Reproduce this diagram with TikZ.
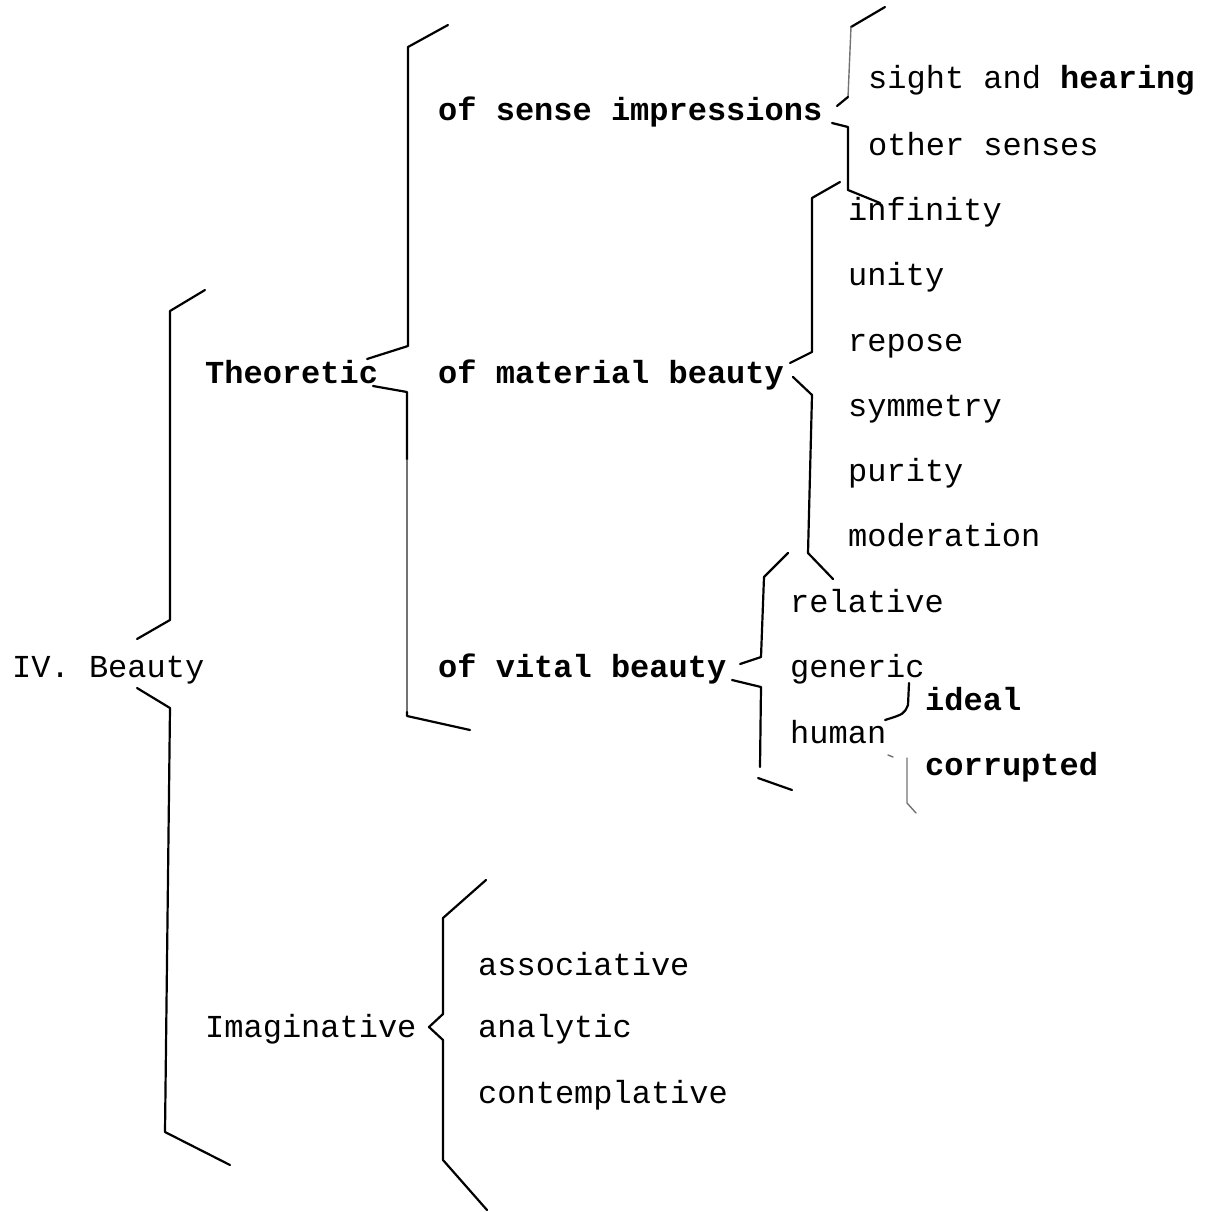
\documentclass[tikz,border=0pt]{standalone}
\usepackage{fontspec}
\setmonofont{Liberation Mono}
\begin{document}
\begin{tikzpicture}[x=1pt,y=-1pt,
  lbl/.style={anchor=mid west, inner sep=0pt, yshift=-8pt, font=\fontsize{32}{36}\selectfont\ttfamily},
  blbl/.style={lbl, font=\fontsize{32}{36}\selectfont\ttfamily\bfseries},
  brk/.style={line width=2.2pt, line join=round, line cap=round},
  faint/.style={line width=1.4pt, black!55, line cap=round}]
\useasboundingbox (0,0) rectangle (1209,1212);

% level 0
\node[lbl] (beauty) at (12,667) {IV. Beauty};
% level 1
\node[blbl] (theo) at (205,373) {Theoretic};
\node[lbl] (imag) at (205,1027) {Imaginative};
% level 2
\node[blbl] (sense) at (438,110) {of sense impressions};
\node[blbl] (mat) at (438,373) {of material beauty};
\node[blbl] (vital) at (438,667) {of vital beauty};
\node[lbl] (assoc) at (478,965) {associative};
\node[lbl] (analy) at (478,1027) {analytic};
\node[lbl] (contem) at (478,1093) {contemplative};
% level 3
\node[lbl] (sight) at (868,78) {sight and \textbf{hearing}};
\node[lbl] (other) at (868,145) {other senses};
\node[lbl] (infin) at (848,210) {infinity};
\node[lbl] (unity) at (848,275) {unity};
\node[lbl] (repose) at (848,341) {repose};
\node[lbl] (symm) at (848,406) {symmetry};
\node[lbl] (purity) at (848,471) {purity};
\node[lbl] (moder) at (848,536) {moderation};
\node[lbl] (relat) at (790,602) {relative};
\node[lbl] (gener) at (790,667) {generic};
\node[lbl] (human) at (790,733) {human};
% level 4
\node[blbl] (ideal) at (925,700) {ideal};
\node[blbl] (corr) at (925,765) {corrupted};

% bracket: IV. Beauty
\draw[brk] (205,290) -- (170,311) -- (170,620) -- (137,639);
\draw[brk] (137,688) -- (170,708) -- (165,1132) -- (230,1165);

% bracket: Theoretic
\draw[brk] (448,25) -- (408,47) -- (408,346) -- (367,359);
\draw[brk] (373,386) -- (407,392) -- (407,460);
\draw[faint] (407,460) -- (407,712);
\draw[brk] (407,712) -- (407,716) -- (470,730);

% bracket: of sense impressions
\draw[brk] (885,7) -- (851,27);
\draw[faint] (851,27) -- (848,97);
\draw[brk] (848,97) -- (837,106);
\draw[brk] (832,123) -- (848,127) -- (848,190) -- (880,203);

% bracket: of material beauty
\draw[brk] (840,182) -- (812,198) -- (812,352) -- (790,363);
\draw[brk] (793,377) -- (812,395) -- (808,553) -- (833,579);

% bracket: of vital beauty
\draw[brk] (788,553) -- (764,577) -- (761,657) -- (740,664);
\draw[brk] (732,680) -- (761,687) -- (760,767);
\draw[brk] (758,778) -- (792,790);

% bracket: human
\draw[brk] (909,683) -- (908,705) .. controls (904,714) .. (885,720);
\draw[faint] (888,755) -- (893,757);
\draw[faint] (907,758) -- (907,803) -- (916,813);

% bracket: Imaginative
\draw[brk] (486,880) -- (443,918) -- (443,1014) .. controls (436,1020) .. (429,1027)
  .. controls (436,1034) .. (443,1040) -- (443,1160) -- (487,1210);
\end{tikzpicture}
\end{document}
